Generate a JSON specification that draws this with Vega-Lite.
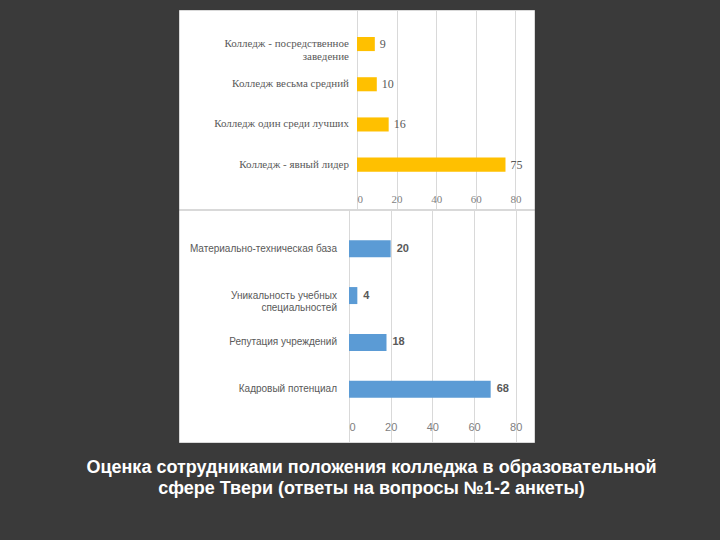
{
  "$schema": "https://vega.github.io/schema/vega-lite/v6.json",
  "background": "#3a3a3a",
  "padding": {"left": 86, "top": 9, "right": 70, "bottom": 50},
  "datasets": {
    "top": [
      {"cat": "Колледж - посредственное\nзаведение", "v": 9},
      {"cat": "Колледж весьма средний", "v": 10},
      {"cat": "Колледж один среди лучших", "v": 16},
      {"cat": "Колледж - явный лидер", "v": 75}
    ],
    "bottom": [
      {"cat": "Материально-техническая база", "v": 20},
      {"cat": "Уникальность учебных\nспециальностей", "v": 4},
      {"cat": "Репутация учреждений", "v": 18},
      {"cat": "Кадровый потенциал", "v": 68}
    ]
  },
  "title": {
    "text": ["Оценка сотрудниками положения колледжа в образовательной", "сфере Твери (ответы на вопросы №1-2 анкеты)"],
    "orient": "bottom",
    "anchor": "middle",
    "dx": 15,
    "offset": 16,
    "font": "Liberation Sans",
    "fontSize": 18,
    "fontWeight": "bold",
    "color": "#ffffff",
    "lineHeight": 21
  },
  "spacing": -2,
  "vconcat": [
    {
      "spacing": 0,
      "bounds": "flush",
      "hconcat": [
        {
          "width": 178,
          "height": 199,
          "data": {"name": "top"},
          "mark": {"type": "text", "align": "right", "baseline": "middle", "dx": -8, "lineBreak": "\n", "font": "Liberation Serif", "fontSize": 11, "color": "#595959", "lineHeight": 13},
          "encoding": {
            "y": {"field": "cat", "type": "nominal", "sort": null, "axis": null, "scale": {"type": "band", "paddingInner": 0.65, "paddingOuter": 0.8, "align": 0.42}},
            "x": {"datum": 1, "type": "quantitative", "scale": {"domain": [0, 1]}, "axis": null},
            "text": {"field": "cat"}
          }
        },
        {
          "width": 177,
          "height": 199,
          "data": {"name": "top"},
          "encoding": {
            "y": {"field": "cat", "type": "nominal", "sort": null, "axis": null, "scale": {"type": "band", "paddingInner": 0.65, "paddingOuter": 0.8, "align": 0.42}},
            "x": {"field": "v", "type": "quantitative", "scale": {"domain": [0, 89.4], "nice": false},
              "axis": {"values": [0, 20, 40, 60, 80], "title": null, "grid": true, "gridColor": "#d9d9d9", "domain": false, "ticks": false, "tickSize": 0, "labelPadding": 0, "offset": -16, "labelFont": "Liberation Serif", "labelFontSize": 11, "labelColor": "#7f7f7f"}}
          },
          "layer": [
            {"mark": {"type": "bar", "color": "#FFC000"}},
            {"mark": {"type": "text", "align": "left", "baseline": "middle", "dx": 5, "font": "Liberation Serif", "fontSize": 12, "color": "#595959"}, "encoding": {"text": {"field": "v"}}}
          ]
        }
      ]
    },
    {
      "spacing": 0,
      "bounds": "flush",
      "hconcat": [
        {
          "width": 170,
          "height": 232,
          "data": {"name": "bottom"},
          "mark": {"type": "text", "align": "right", "baseline": "middle", "dx": -12, "lineBreak": "\n", "font": "Liberation Sans", "fontSize": 10, "color": "#595959", "lineHeight": 12.5},
          "encoding": {
            "y": {"field": "cat", "type": "nominal", "sort": null, "axis": null, "scale": {"type": "band", "paddingInner": 0.6375, "paddingOuter": 0.792, "align": 0.406}},
            "x": {"datum": 1, "type": "quantitative", "scale": {"domain": [0, 1]}, "axis": null},
            "text": {"field": "cat"}
          }
        },
        {
          "width": 185,
          "height": 232,
          "data": {"name": "bottom"},
          "encoding": {
            "y": {"field": "cat", "type": "nominal", "sort": null, "axis": null, "scale": {"type": "band", "paddingInner": 0.6375, "paddingOuter": 0.792, "align": 0.406}},
            "x": {"field": "v", "type": "quantitative", "scale": {"domain": [0, 88.8], "nice": false},
              "axis": {"values": [0, 20, 40, 60, 80], "title": null, "grid": true, "gridColor": "#d9d9d9", "domain": false, "ticks": false, "tickSize": 0, "labelPadding": 0, "offset": -21, "labelFont": "Liberation Sans", "labelFontSize": 11, "labelColor": "#7f7f7f"}}
          },
          "layer": [
            {"mark": {"type": "bar", "color": "#5B9BD5"}},
            {"mark": {"type": "text", "align": "left", "baseline": "middle", "dx": 6, "font": "Liberation Sans", "fontSize": 11, "fontWeight": "bold", "color": "#595959"}, "encoding": {"text": {"field": "v"}}}
          ]
        }
      ]
    }
  ],
  "config": {
    "view": {"fill": "#ffffff", "stroke": "#d9d9d9"}
  }
}
